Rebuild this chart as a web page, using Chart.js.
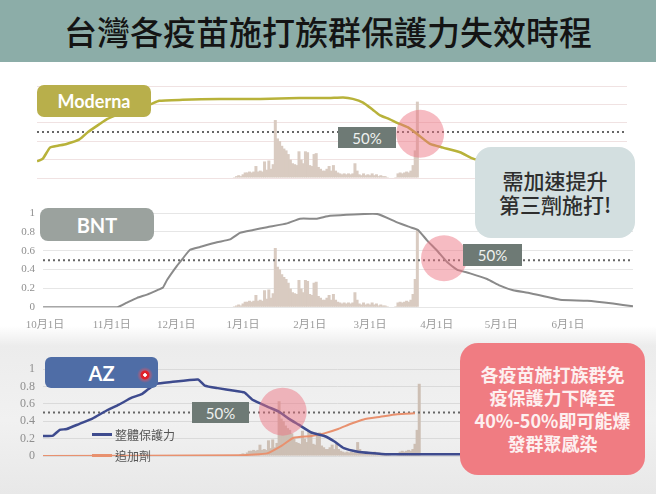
<!DOCTYPE html>
<html><head><meta charset="utf-8">
<script src="https://cdn.jsdelivr.net/npm/chart.js@4.4.1/dist/chart.umd.min.js"></script>
<style>
html,body{margin:0;padding:0;}
body{width:656px;height:494px;overflow:hidden;position:relative;font-family:"Noto Sans CJK TC","Noto Sans",sans-serif;
background:linear-gradient(to bottom,#ffffff 0px,#ffffff 326px,#ececec 346px,#f1f1f1 420px,#e8e8e8 494px);}
#title{position:absolute;left:0;top:0;width:656px;height:62px;background:#8cada8;color:#141414;font-size:33px;font-weight:500;text-align:center;line-height:62px;letter-spacing:0px;}
canvas{position:absolute;left:0;}
.tag{position:absolute;color:#fff;font-family:Lato,"Open Sans",sans-serif;font-weight:700;display:flex;align-items:center;justify-content:center;}
.pct{position:absolute;background:#6e7a75;color:#eef1ef;font-family:Lato,"Open Sans",sans-serif;font-size:15px;display:flex;align-items:center;justify-content:center;}
.box{position:absolute;display:flex;align-items:center;justify-content:center;text-align:center;}
.leg{position:absolute;font-size:12px;color:#555;display:flex;align-items:center;height:14px;}
.leg span{display:inline-block;width:20px;height:3px;margin-right:3px;}
#dot{position:absolute;left:137px;top:367px;width:16px;height:16px;border-radius:50%;
background:radial-gradient(circle,#fff 0,#fff 1.5px,#e0202a 2px,#e0202a 4px,rgba(240,80,90,0.5) 5px,rgba(240,120,130,0) 8px);}
</style></head>
<body>
<div id="title">台灣各疫苗施打族群保護力失效時程</div>
<canvas id="cM" width="656" height="140" style="top:62px"></canvas>
<canvas id="cB" width="656" height="150" style="top:190px"></canvas>
<canvas id="cA" width="656" height="135" style="top:345px"></canvas>

<div class="tag" style="left:37px;top:85px;width:114px;height:32px;border-radius:7px;background:#b8af4b;font-size:18px;">Moderna</div>
<div class="tag" style="left:40px;top:208px;width:114px;height:33px;border-radius:8px;background:#9ba29e;font-size:20px;">BNT</div>
<div class="tag" style="left:45px;top:357px;width:113px;height:31px;border-radius:6px;background:#4f6da6;font-size:20px;">AZ</div>
<div id="dot"></div>

<div class="pct" style="left:338px;top:127px;width:58px;height:21px;">50%</div>
<div class="pct" style="left:463px;top:244px;width:59px;height:22px;">50%</div>
<div class="pct" style="left:192px;top:402px;width:57px;height:21px;">50%</div>

<div class="leg" style="left:92px;top:427px;"><span style="background:#3e4b8e"></span>整體保護力</div>
<div class="leg" style="left:92px;top:448px;"><span style="background:#e8916f"></span>追加劑</div>

<div class="box" style="left:475px;top:147px;width:160px;height:91px;border-radius:16px;background:#d3dfe0;color:#2e2e2e;font-size:21px;font-weight:500;line-height:23.5px;">需加速提升<br>第三劑施打!</div>
<div class="box" style="left:460px;top:343px;width:185px;height:132px;border-radius:18px;background:#f07c82;color:#fdf0f0;font-size:18px;font-weight:700;line-height:23px;">各疫苗施打族群免<br>疫保護力下降至<br>40%-50%即可能爆<br>發群聚感染</div>

<script>
// ---- data (x = days since 10月1日) ----
const monthDays = [0, 31, 61, 92, 123, 151, 182, 212, 243];
const monthLabels = ['10月1日','11月1日','12月1日','1月1日','2月1日','3月1日','4月1日','5月1日','6月1日'];
const yTicks = [0, 0.2, 0.4, 0.6, 0.8, 1];
const threshold = 0.5;

const caseStartDay = 88;
const caseValues = [0.01,0.02,0.03,0.02,0.04,0.06,0.06,0.07,0.06,0.07,0.13,0.07,0.08,0.07,0.18,0.09,0.19,0.10,0.15,0.63,
  0.43,0.40,0.35,0.32,0.30,0.26,0.20,0.16,0.15,0.14,0.29,0.20,0.16,0.29,0.28,0.14,0.13,0.26,0.27,0.12,
  0.10,0.08,0.08,0.10,0.13,0.08,0.14,0.08,0.06,0.05,0.04,0.05,0.04,0.05,0.04,0.05,0.16,0.08,0.04,0.03,
  0.05,0.03,0.04,0.03,0.05,0.03,0.04,0.02,0.03,0.02,0.02,0.01,0,0,0,0.01,0.05,0.06,0.05,0.06,
  0.07,0.06,0.08,0.14,0.30,0.83];

const modernaDays   = [-3.7,-1,2.3,6,10,16,20,25.6,28.8,35,42,49,53,64,81,100,118,132,138.5,143,147.8,152.4,155.7,160,163.6,168.7,173.3,178.9,184.9,192.8,198.9,203,215,240,270];
const modernaValues = [0.18,0.21,0.33,0.35,0.37,0.42,0.50,0.59,0.64,0.70,0.76,0.80,0.84,0.85,0.86,0.86,0.87,0.87,0.875,0.86,0.82,0.74,0.68,0.64,0.60,0.55,0.47,0.37,0.33,0.28,0.21,0.19,0.15,0.10,0.06];

const bntDays   = [-0.9,33.5,38.1,42.8,47.4,52,54.8,56.7,61.3,64.1,67.4,72,79.9,86,90.6,96.7,103.2,112.5,118.5,126.4,132.4,154.3,163.6,169.6,173.3,177.5,182.2,186.8,191.4,197.5,205.4,211.4,217.5,225.4,239.3,251.9,263.9,273.2];
const bntValues = [0,0,0.05,0.10,0.135,0.18,0.21,0.29,0.44,0.52,0.61,0.64,0.69,0.72,0.79,0.82,0.85,0.89,0.94,0.94,0.97,0.99,0.90,0.85,0.82,0.71,0.60,0.48,0.40,0.36,0.30,0.23,0.18,0.15,0.08,0.07,0.04,0.01];

const azDays   = [-4.2,0.5,3.7,7,13,19.1,25.6,31.6,37.6,42.3,45.5,49.3,56.2,68.8,72,78.1,86,90.6,94.3,97.6,102.2,106.9,111.5,116.2,122.2,128.3,132.9,137.5,144.1,150.1,158,178,194.2,273.2];
const azValues = [0.23,0.235,0.30,0.31,0.37,0.43,0.52,0.59,0.67,0.71,0.77,0.83,0.85,0.88,0.81,0.78,0.75,0.73,0.65,0.61,0.56,0.51,0.43,0.36,0.27,0.23,0.17,0.09,0.05,0.035,0.02,0.02,0.02,0.01];

const boosterDays   = [-4.2,89.7,101.3,108.3,113.8,122.2,128.3,134.8,140.8,146.8,154.7,162.6,171];
const boosterValues = [0,0.01,0.03,0.12,0.21,0.23,0.26,0.31,0.37,0.42,0.45,0.48,0.49];

// 50% crossing markers: Moderna, BNT, AZ
const markerDays   = [174.3, 185.4, 108.7];
const markerValues = [0.48, 0.52, 0.51];

// ---- chart builder ----
const pts = (xs, ys) => xs.map((x, i) => ({x: x, y: ys[i]}));

function build(id, c) {
  const datasets = [
    {type:'line', showLine:false, data:[{x:markerDays[c.mi], y:markerValues[c.mi]}], pointRadius:c.r, pointHoverRadius:c.r,
     pointBackgroundColor:'rgba(236,112,128,0.48)', pointBorderWidth:0},
  ];
  c.lines.forEach(l => datasets.push({type:'line', data:pts(l.xs, l.ys), borderColor:l.color, borderWidth:l.w,
     pointRadius:0, tension:0.15, fill:false}));
  datasets.push({type:'line', data:[{x:c.min,y:threshold},{x:c.max,y:threshold}], borderColor:'#666', borderWidth:2,
     borderDash:[2,3], pointRadius:0});
  datasets.push({type:'bar', data:caseValues.map((v,i)=>({x:caseStartDay+i, y:v})), backgroundColor:c.bar,
     barThickness:3, grouped:false, borderWidth:0, inflateAmount:0});
  const serif = '"Liberation Serif","Noto Sans CJK TC",serif';
  new Chart(document.getElementById(id), {
    type:'bar',
    data:{datasets:datasets},
    options:{
      responsive:false, animation:false, devicePixelRatio:1,
      layout:{padding:c.pad},
      plugins:{legend:{display:false}, tooltip:{enabled:false}},
      scales:{
        x:{type:'linear', min:c.min, max:c.max, offset:false,
           afterBuildTicks:s=>{ s.ticks = monthDays.map(v=>({value:v})); },
           afterFit:s=>{ s.height = c.xH; },
           grid:{display:false, drawTicks:false}, border:{display:false},
           ticks:{display:c.xLab, autoSkip:false, maxRotation:0, padding:11, color:'#9a9a9a',
                  font:{family:serif, size:11}, callback:(v,i)=>monthLabels[i]}},
        y:{min:0, max:1,
           afterBuildTicks:s=>{ s.ticks = yTicks.map(v=>({value:v})); },
           afterFit:s=>{ s.width = c.yW; },
           grid:{color:c.grid, drawTicks:false, lineWidth:1}, border:{display:false},
           ticks:{display:c.yLab, padding:8, crossAlign:'near', color:'#8f8f8f',
                  font:{family:serif, size:c.yFont}, callback:v=>String(v)}}
      }
    }
  });
}

build('cM', {mi:0, r:24, min:-3.72, max:270.4, pad:{top:17.6,bottom:18,left:37,right:29}, xH:0, yW:0, xLab:false, yLab:false, yFont:11,
  grid:'#f0e2e2', bar:'#d9cbc1',
  lines:[{xs:modernaDays, ys:modernaValues, color:'#b8b23a', w:2.5}]});

build('cB', {mi:1, r:23, min:-0.93, max:273.2, pad:{top:12.7,bottom:2.7,left:17,right:23}, xH:30, yW:26, xLab:true, yLab:true, yFont:11,
  grid:'#e6e6e6', bar:'#d9cbc1',
  lines:[{xs:bntDays, ys:bntValues, color:'#8a8a8a', w:2}]});

build('cA', {mi:2, r:24, min:-4.18, max:273.2, pad:{top:12.3,bottom:9.3,left:17,right:16}, xH:0, yW:26, xLab:false, yLab:true, yFont:12,
  grid:'#dadada', bar:'#cdbfb4',
  lines:[{xs:azDays, ys:azValues, color:'#3e4b8e', w:2.5},{xs:boosterDays, ys:boosterValues, color:'#e8916f', w:2}]});
</script>
</body></html>
